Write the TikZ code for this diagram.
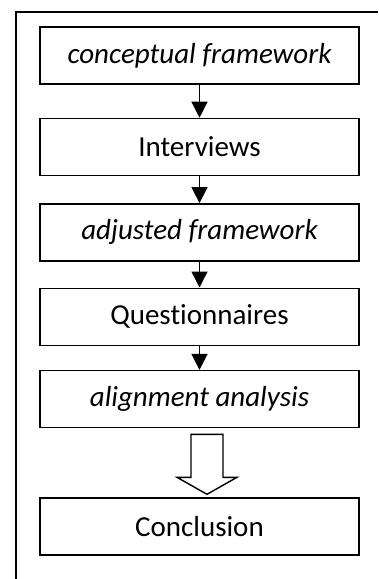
\documentclass[tikz,border=0pt]{standalone}
\usepackage{fontspec}
\setmainfont{Carlito}[Ligatures=NoCommon]
\usetikzlibrary{positioning,calc}
\usetikzlibrary{arrows.meta}
\tikzset{
   stage/.style={draw,line width=1.4pt,minimum width=319pt,minimum height=57pt,
      inner sep=0pt,font=\fontsize{29}{33}\selectfont},
   flow/.style={line width=1.4pt,-{Triangle[length=16pt,width=16pt]}},
   hollow/.style={line width=1.4pt,fill=white,line join=miter},
   frame/.style={line width=2.6pt}}

\begin{document}
\begin{tikzpicture}
      \useasboundingbox (0,0) rectangle (378pt,-579pt);
      \draw[frame] (16pt,-579pt) |- (378pt,-12pt);

      \node[stage] (cf) at (199.5pt,-55.5pt) {\itshape conceptual framework};
      \node[stage,below=33pt of cf] (iv) {Interviews};
      \node[stage,below=27pt of iv] (af) {\itshape adjusted framework};
      \node[stage,below=26pt of af] (qn) {Questionnaires};
      \node[stage,below=24pt of qn] (an) {\itshape alignment analysis};
      \node[stage,below=69pt of an] (cc) {Conclusion};

      \coordinate (hd) at ($(cc.north)+(7.5pt,3pt)$);

      \draw[flow] (cf) -- (iv);
      \draw[flow] (iv) -- (af);
      \draw[flow] (af) -- (qn);
      \draw[flow] (qn) -- (an);
      \draw[hollow] (hd) -- ++(-30pt,17pt) -- ++(14pt,0) -- ++(0,43pt) -- ++(32pt,0)
         -- ++(0,-43pt) -- ++(14pt,0) -- cycle;
\end{tikzpicture}
\end{document}
